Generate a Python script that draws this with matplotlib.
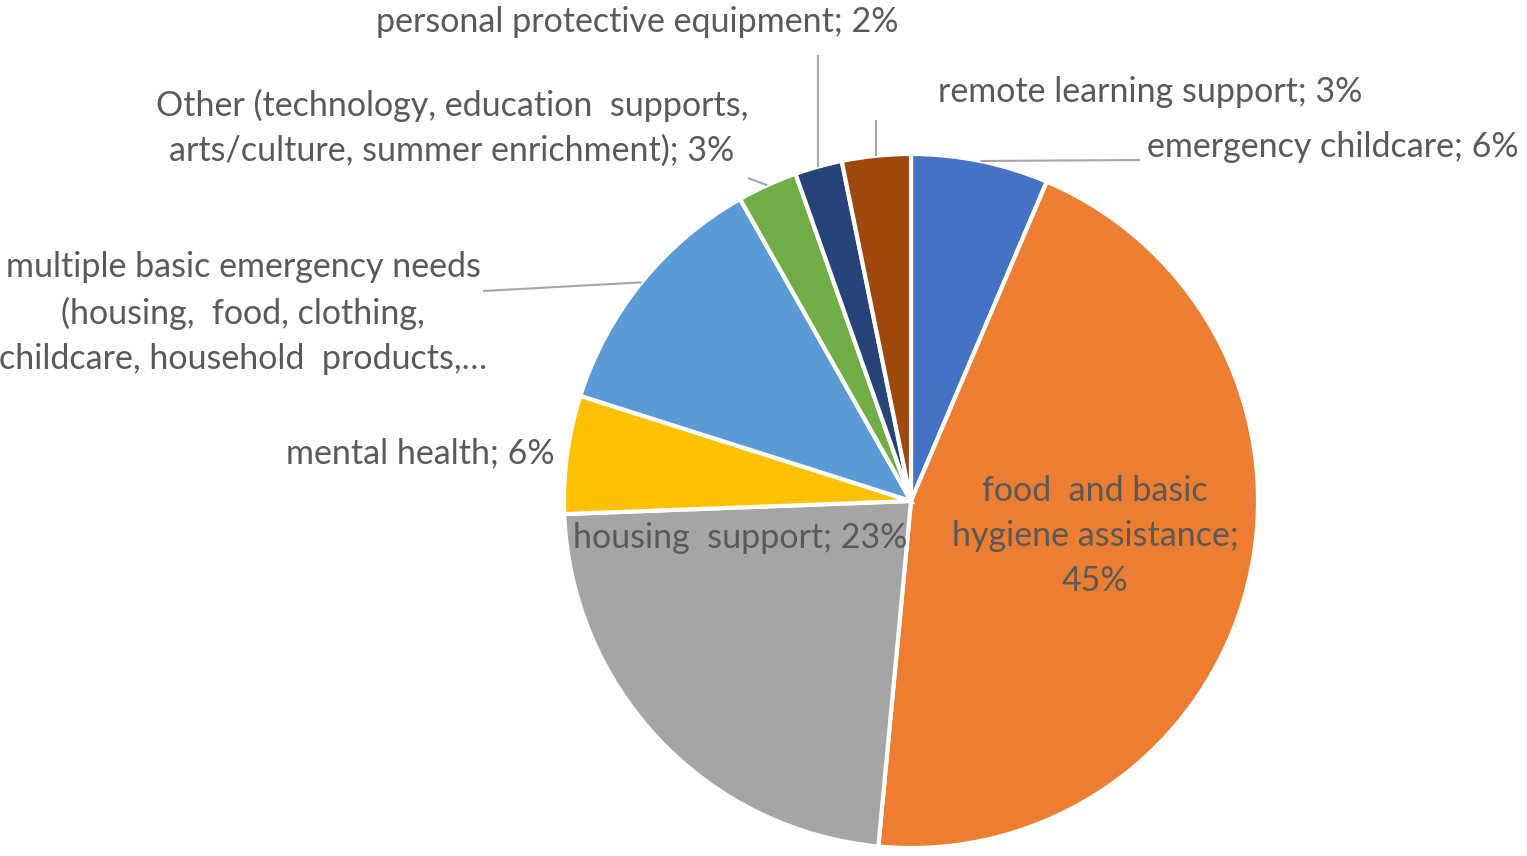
import numpy as np
import matplotlib
matplotlib.use("Agg")
import matplotlib.pyplot as plt

plt.rcParams["font.family"] = ["Lato", "DejaVu Sans"]

# slices, clockwise from 12 o'clock
labels = [
    "emergency childcare",
    "food and basic hygiene assistance",
    "housing support",
    "mental health",
    "multiple basic emergency needs",
    "Other",
    "personal protective equipment",
    "remote learning support",
]
values = [6.4, 45.1, 22.9, 5.5, 11.9, 2.8, 2.2, 3.2]
shown_pct = [6, 45, 23, 6, 12, 3, 2, 3]
colors = ["#4472C4", "#ED7D31", "#A5A5A5", "#FFC000",
          "#5B9BD5", "#70AD47", "#264478", "#9E480E"]

W, H = 1527, 856
fig = plt.figure(figsize=(W / 100, H / 100), dpi=100)
ax = fig.add_axes([0, 0, 1, 1])

cx, cy, r = 911, H - 501, 347
ax.pie(values, colors=colors, startangle=90, counterclock=False,
       center=(cx, cy), radius=r,
       wedgeprops=dict(edgecolor="white", linewidth=3))
ax.set_xlim(0, W)
ax.set_ylim(0, H)
ax.set_aspect("equal")
ax.axis("off")

txt_col = "#595959"
line_col = "#A6A6A6"
fs = 24.5
ls = 1.5


def Y(y):
    return H - y


# edge point of each wedge at its middle angle
cum = np.cumsum([0] + values[:-1])
mid = 90 - 360 * (cum + np.array(values) / 2) / sum(values)
edge = [(cx + r * np.cos(np.radians(a)), cy + r * np.sin(np.radians(a))) for a in mid]


def leader(i, x2, y2):
    ex, ey = edge[i]
    ax.plot([ex, x2], [ey, Y(y2)], color=line_col, lw=1.5, solid_capstyle="butt")


# inside labels
ax.text(1095, Y(536), "food  and basic\nhygiene assistance;\n%d%%" % shown_pct[1],
        ha="center", va="center", fontsize=fs, color=txt_col, linespacing=ls)
ax.text(740, Y(538), "housing  support; %d%%" % shown_pct[2],
        ha="center", va="center", fontsize=fs, color=txt_col)

# outside labels
ax.text(1147, Y(147), "emergency childcare; %d%%" % shown_pct[0],
        ha="left", va="center", fontsize=fs, color=txt_col)
leader(0, 1140, 160)

ax.text(555, Y(453), "mental health; %d%%" % shown_pct[3],
        ha="right", va="center", fontsize=fs, color=txt_col)

ax.text(243, Y(313), "multiple basic emergency needs\n(housing,  food, clothing,\nchildcare, household  products,\u2026",
        ha="center", va="center", fontsize=fs, color=txt_col, linespacing=ls)
leader(4, 483, 291)

ax.text(452, Y(128), "Other (technology, education  supports,\narts/culture, summer enrichment); %d%%" % shown_pct[5],
        ha="center", va="center", fontsize=fs, color=txt_col, linespacing=ls)
leader(5, 748, 178)

ax.text(637, Y(22), "personal protective equipment; %d%%" % shown_pct[6],
        ha="center", va="center", fontsize=fs, color=txt_col)
leader(6, edge[6][0], 55)

ax.text(1150, Y(92), "remote learning support; %d%%" % shown_pct[7],
        ha="center", va="center", fontsize=fs, color=txt_col)
leader(7, edge[7][0], 120)

fig.savefig("out.png", dpi=100)
